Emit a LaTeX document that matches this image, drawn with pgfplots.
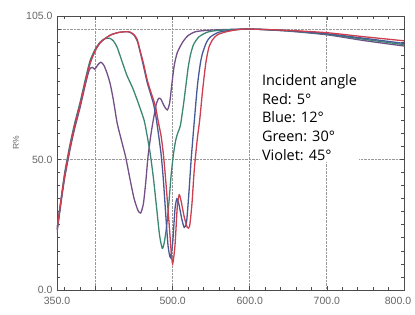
\documentclass[border=0pt]{standalone}
\usepackage{fontspec}
\setmainfont{Liberation Sans}
\newfontfamily\annot{Open Sans}
\usepackage{pgfplots}
\pgfplotsset{compat=1.18}
\definecolor{cred}{RGB}{205,62,78}
\definecolor{cblue}{RGB}{70,90,150}
\definecolor{cgreen}{RGB}{60,135,115}
\definecolor{cviolet}{RGB}{115,78,135}
\begin{document}
\begin{tikzpicture}
\begin{axis}[
 scale only axis, width=347pt, height=274pt,
 xmin=350, xmax=800, ymin=0, ymax=105,
 xtick={350,400,500,600,700,800},
 xticklabels={350.0,,500.0,600.0,700.0,\hspace*{-12pt}800.0},
 ytick={0,50,100,105},
 yticklabels={0.0,50.0,,105.0},
 minor xtick={360,380,420,440,460,480,520,540,560,580,620,640,660,680,720,740,760,780},
 minor ytick={5,10,...,45,55,60,...,95},
 grid=major, major grid style={densely dotted, black!40, line width=0.9pt},
 axis line style={black!70, line width=0.8pt},
 tick style={black!70, line width=0.7pt},
 major tick length=4pt, minor tick length=3pt,
 tick label style={font=\fontsize{10.5}{11}\selectfont, text=black!60},
 xticklabel style={yshift=-4pt},
 yticklabel style={xshift=-1pt},
 /pgf/number format/assume math mode=true,
 ylabel={R\%}, ylabel style={at={(axis description cs:-0.118,0.537)}, anchor=center, font=\fontsize{8.5}{9}\selectfont, text=black!60},
 every axis plot/.append style={smooth, tension=0.4, line width=1.3pt},
]
\coordinate (sw) at (rel axis cs:0,0);
% Violet 45
\addplot[cviolet] coordinates {
(350,22)(355,33)(360,43)(367,54)(373,62)(380,70)(387,79)(392,84.5)(396,85.3)(399,84.6)(403,86.3)(407,87.3)(411,86)(415,83)(419,79)(423,73)(428,64)(433,58)(439,51)(445,42)(450,35)(455,30.5)(458.5,29.5)(462,33)(465,41)(468,51)(472,60)(476,67)(479,71.5)(482,73.5)(485,73)(489,70.5)(493,69)(496,71.5)(499,79)(502,86)(506,91)(513,95)(520,97.5)(530,99)(550,99.6)(600,100)(650,99.2)(700,97.8)(750,95.5)(800,93.5)};
% Green 30
\addplot[cgreen] coordinates {
(350,23)(355,34)(360,45)(367,56)(373,64)(380,72)(387,81)(393,88)(400,92.5)(406,95)(412,96.3)(418,96.5)(423,95.5)(428,93)(435,87)(441,82)(448,77.5)(455,72)(463,65)(467,59)(471,52)(475,43)(479,32)(483,21)(486.5,16)(489,18)(492,24)(495,33)(498,44)(501,52)(504,57.5)(507,60.5)(510,63)(514,71)(517,78)(520,85)(523,90)(527,94)(534,97)(545,98.8)(560,99.5)(600,100)(650,99.3)(700,98)(750,96)(800,94)};
% Blue 12
\addplot[cblue] coordinates {
(350,23)(355,34)(360,44)(367,55)(373,63)(380,71)(387,80)(393,87)(400,92)(406,94.8)(413,96.5)(420,97.8)(430,98.7)(440,99)(445,98.7)(450,97.6)(454,95.5)(458,91)(462,86)(467,79.5)(471,75.5)(475,71.5)(478,67)(481,61)(485,52)(488,42)(491,29)(494,17)(497,12.5)(500,18)(503,31)(505.5,35)(508,33)(512,27)(515,24)(518,26)(521,37)(524,50)(527,61)(532,78)(536,87)(539,91)(544,95)(549,97)(560,98.8)(580,99.7)(600,100)(650,99.4)(700,98.2)(750,96.4)(800,94.5)};
% Red 5
\addplot[cred] coordinates {
(350,23)(355,34)(360,44)(367,55)(373,63)(380,71)(387,80)(393,87)(400,92)(406,94.8)(413,96.5)(420,97.8)(430,98.7)(440,99)(445,98.8)(450,97.8)(454,96)(458,91.5)(462,87)(467,80.5)(471,76.5)(475,73)(478,70)(481,65)(485,59)(488,52)(491,42)(495,27)(498,15)(500,10)(503,17)(506,32)(508.5,36.5)(511,34)(515,28)(519,24)(522,24.5)(525,33)(528,46)(532,58)(535,65)(539,77)(543,87)(547,93)(552,96)(558,97.8)(570,99)(585,99.8)(600,100)(650,99.5)(700,98.6)(750,97)(800,95.5)};
\node[anchor=north west, align=left, inner sep=2pt, fill=white, font=\annot\fontsize{14.5}{18.7}\selectfont] at (axis cs:613,83.5) {Incident angle\\Red: 5°\\Blue: 12°\\Green: 30°\\Violet: 45°};
\end{axis}
\pgfresetboundingbox
\path (sw) ++(-57pt,-24pt) rectangle ++(415pt,314pt);
\end{tikzpicture}
\end{document}
